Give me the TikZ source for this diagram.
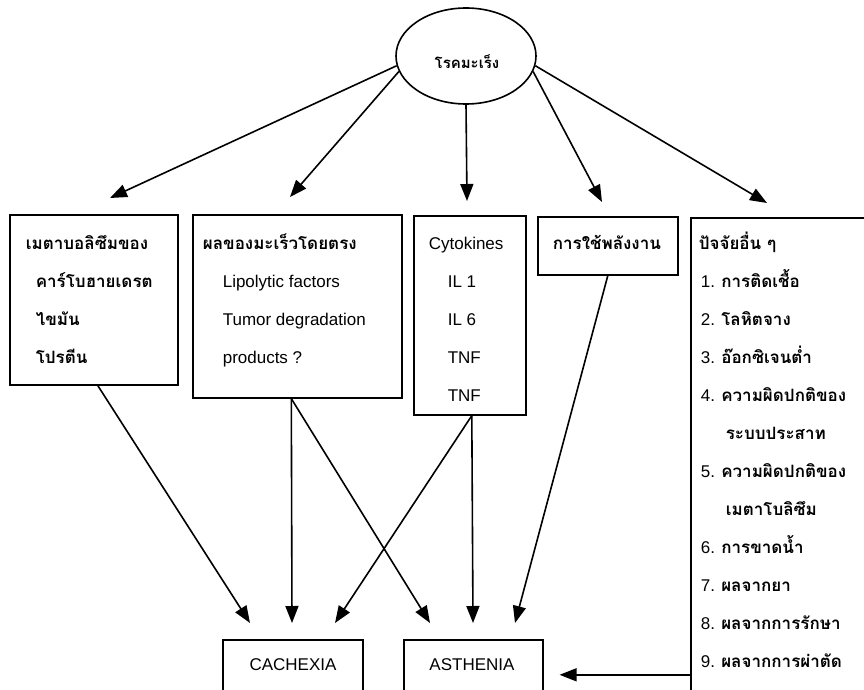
\documentclass[tikz,border=0pt]{standalone}
\usepackage{fontspec}
\setmainfont{Liberation Sans}
\newfontfamily\thaifont[Script=Thai]{Loma}
\usetikzlibrary{arrows.meta,shapes.geometric}
\begin{document}
\begin{tikzpicture}[x=1pt,y=-1pt,
  line width=1.6pt,
  arr/.style={-{Triangle[length=17pt,width=13pt]}},
  boxn/.style={draw,rectangle,inner sep=0pt,anchor=north west},
  lat/.style={anchor=base west,inner sep=0pt,font=\fontsize{17}{20}\selectfont},
  th/.style={anchor=base west,inner sep=0pt,font=\thaifont\bfseries\fontsize{17}{20}\selectfont}]
\useasboundingbox (0,0) rectangle (864,690);

% top ellipse
\node[draw,ellipse,minimum width=140pt,minimum height=96pt,inner sep=0pt] (ca) at (466,56) {};
\node[anchor=center,inner sep=0pt,font=\thaifont\bfseries\fontsize{15}{18}\selectfont] (catext) at (467,62) {โรคมะเร็ง};

% boxes
\node[boxn,minimum width=168pt,minimum height=170pt] (b1) at (9,214) {};
\node[boxn,minimum width=209pt,minimum height=183pt] (b2) at (192,214) {};
\node[boxn,minimum width=112pt,minimum height=199pt] (b3) at (413,215) {};
\node[boxn,minimum width=140pt,minimum height=58pt] (b4) at (537,216) {};
\node[boxn,minimum width=200pt,minimum height=500pt] (b5) at (690,217) {};
\node[boxn,minimum width=140pt,minimum height=70pt] (cach) at (222,639) {};
\node[boxn,minimum width=139pt,minimum height=70pt] (asth) at (403,639) {};

% texts box 1
\node[th] (t11) at (25,249) {เมตาบอลิซึมของ};
\node[th] (t12) at (35,287) {คาร์โบฮายเดรต};
\node[th] (t13) at (35,325) {ไขมัน};
\node[th] (t14) at (35,363) {โปรตีน};
% box 2
\node[th] (t21) at (202,249) {ผลของมะเร็วโดยตรง};
\node[lat] (t22) at (222,287) {Lipolytic factors};
\node[lat] (t23) at (222,325) {Tumor degradation};
\node[lat] (t24) at (222,363) {products ?};
% box 3
\node[lat] (t31) at (428,249) {Cytokines};
\node[lat] (t32) at (447,287) {IL 1};
\node[lat] (t33) at (447,325) {IL 6};
\node[lat] (t34) at (447,363) {TNF};
\node[lat] (t35) at (447,401) {TNF};
% box 4
\node[th] (t41) at (552,249) {การใช้พลังงาน};
% box 5
\node[th] (t50) at (698,249) {ปัจจัยอื่น ๆ};
\node[lat] (t51) at (700,287) {1. {\thaifont\bfseries การติดเชื้อ}};
\node[lat] (t52) at (700,325) {2. {\thaifont\bfseries โลหิตจาง}};
\node[lat] (t53) at (700,363) {3. {\thaifont\bfseries อ๊อกซิเจนต่ำ}};
\node[lat] (t54) at (700,401) {4. {\thaifont\bfseries ความผิดปกติของ}};
\node[th]  (t54b) at (725,439) {ระบบประสาท};
\node[lat] (t55) at (700,477) {5. {\thaifont\bfseries ความผิดปกติของ}};
\node[th]  (t55b) at (725,515) {เมตาโบลิซึม};
\node[lat] (t56) at (700,553) {6. {\thaifont\bfseries การขาดน้ำ}};
\node[lat] (t57) at (700,591) {7. {\thaifont\bfseries ผลจากยา}};
\node[lat] (t58) at (700,629) {8. {\thaifont\bfseries ผลจากการรักษา}};
\node[lat] (t59) at (700,667) {9. {\thaifont\bfseries ผลจากการผ่าตัด}};
% bottom box labels
\node[anchor=center,inner sep=0pt,font=\fontsize{17}{20}\selectfont] (cachl) at (293,665) {CACHEXIA};
\node[anchor=center,inner sep=0pt,font=\fontsize{17}{20}\selectfont] (asthl) at (472,665) {ASTHENIA};

% arrow tip coordinates
\coordinate (p1) at (110,198);
\coordinate (p2) at (290,197);
\coordinate (p3) at (467,201);
\coordinate (p4) at (602,202);
\coordinate (p5) at (767,203);
\coordinate (c1) at (250,623);
\coordinate (c2) at (292,623);
\coordinate (c3) at (335,623);
\coordinate (a1) at (430,623);
\coordinate (a2) at (473,623);
\coordinate (a3) at (515,623);

% arrows from the ellipse
\draw[arr] (ca.188) -- (p1);
\draw[arr] (ca.193) -- (p2);
\draw[arr] (ca.south) -- (p3);
\draw[arr] (ca.-13) -- (p4);
\draw[arr] (ca.-8) -- (p5);

% arrows down
\draw[arr] ([xshift=4pt]b1.south) -- (c1);
\draw[arr] ([xshift=-6pt]b2.south) -- (c2);
\draw[arr] ([xshift=-6pt]b2.south) -- (a1);
\draw[arr] ([xshift=2pt]b3.south) -- (c3);
\draw[arr] ([xshift=2pt]b3.south) -- (a2);
\draw[arr] (b4.south) -- (a3);
\draw[arr,shorten >=16pt] (b5.west |- asth.east) -- (asth.east);
\end{tikzpicture}
\end{document}
